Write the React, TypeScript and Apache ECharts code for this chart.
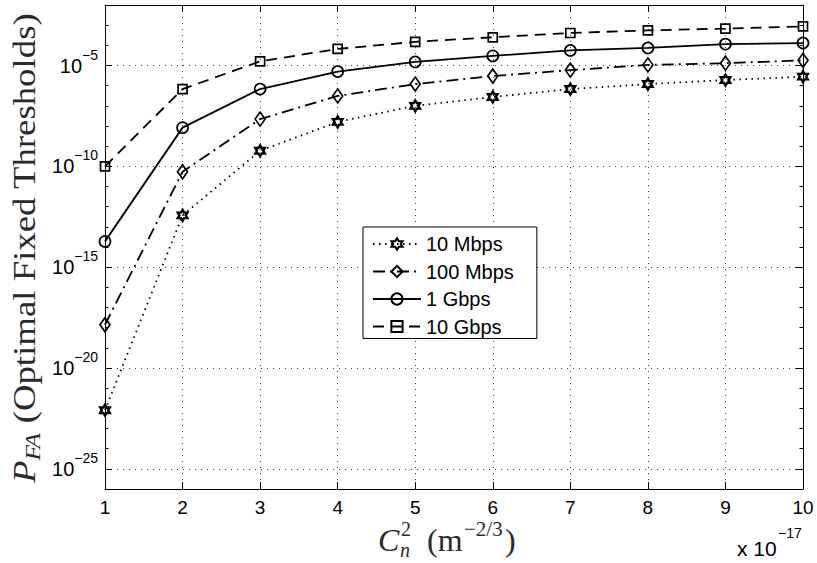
import React, { useEffect, useRef } from 'react';
import * as echarts from 'echarts';

// C_n^2 values (x 10^-17 m^-2/3)
const cn2 = [1, 2, 3, 4, 5, 6, 7, 8, 9, 10];
const seriesNames = ['10 Mbps', '100 Mbps', '1 Gbps', '10 Gbps'];
// P_FA
const pfa10Mbps = [8.1e-23, 3.7e-13, 5.9e-10, 1.6e-8, 1.0e-7, 2.75e-7, 6.8e-7, 1.2e-6, 1.9e-6, 2.8e-6];
const pfa100Mbps = [1.4e-18, 5.4e-11, 2.2e-8, 3.1e-7, 1.2e-6, 3.0e-6, 5.9e-6, 1.07e-5, 1.3e-5, 1.8e-5];
const pfa1Gbps = [1.9e-14, 8.3e-9, 6.8e-7, 5.0e-6, 1.5e-5, 3.0e-5, 5.6e-5, 7.4e-5, 1.15e-4, 1.3e-4];
const pfa10Gbps = [1e-10, 6.8e-7, 1.6e-5, 6.6e-5, 1.5e-4, 2.5e-4, 4.1e-4, 5.5e-4, 6.8e-4, 8.7e-4];
// y axis (decade exponents)
const yMin = -26;
const yMax = -2;
const yMajorTicks = [-25, -20, -15, -10, -5];

const serif = '"Liberation Serif", "Times New Roman", serif';
const sans = '"Liberation Sans", Arial, Helvetica, sans-serif';

const hexagram =
  'path://M0,-10L2.887,-5L8.66,-5L5.774,0L8.66,5L2.887,5L0,10L-2.887,5L-8.66,5L-5.774,0L-8.66,-5L-2.887,-5Z';

const toLog = (vals: number[]) => cn2.map((x, i) => [x, Math.log10(vals[i])]);

const seriesDefs = [
  { name: seriesNames[0], data: pfa10Mbps, symbol: hexagram, size: 11, dash: [1.5, 4.5], bw: 2.4 },
  { name: seriesNames[1], data: pfa100Mbps, symbol: 'diamond', size: [10, 14], dash: [12, 5, 2, 5], bw: 1.7 },
  { name: seriesNames[2], data: pfa1Gbps, symbol: 'circle', size: 11, dash: 'solid', bw: 1.7 },
  { name: seriesNames[3], data: pfa10Gbps, symbol: 'rect', size: 9, dash: [11, 7], bw: 1.7 },
];

const gridLine = { show: true, lineStyle: { color: '#444', width: 1, type: [1, 5] as any } };
const axisLine = { show: true, lineStyle: { color: '#000', width: 1 } };
const labelInk = '#2a2a2a';

function buildOption(): any {
  return {
    animation: false,
    backgroundColor: '#fff',
    grid: { left: 105, right: 14, top: 5, bottom: 74, containLabel: false },
    legend: {
      orient: 'vertical',
      left: 363,
      top: 227,
      data: seriesNames,
      itemWidth: 48,
      itemHeight: 14,
      itemGap: 7.5,
      padding: [7, 23, 2, 9],
      backgroundColor: '#fff',
      borderColor: '#000',
      borderWidth: 1,
      borderRadius: 0,
      textStyle: { fontFamily: sans, fontSize: 20, color: '#000' },
    },
    xAxis: [
      {
        type: 'value',
        min: 1,
        max: 10,
        interval: 1,
        position: 'bottom',
        axisLine,
        axisTick: { show: true, inside: true, length: 7, lineStyle: { color: '#000' } },
        axisLabel: { color: '#000', fontFamily: sans, fontSize: 19, margin: 9 },
        splitLine: gridLine,
      },
      {
        type: 'value',
        min: 1,
        max: 10,
        interval: 1,
        position: 'top',
        axisLine,
        axisTick: { show: true, inside: true, length: 7, lineStyle: { color: '#000' } },
        axisLabel: { show: false },
        splitLine: { show: false },
      },
    ],
    yAxis: [
      {
        type: 'value',
        min: yMin,
        max: yMax,
        position: 'left',
        axisLine,
        axisTick: { show: true, inside: true, length: 7, customValues: yMajorTicks, lineStyle: { color: '#000' } },
        axisLabel: {
          customValues: yMajorTicks,
          margin: 7,
          formatter: (v: number) => `{b|10}{s|${v < 0 ? '\u2212' + Math.abs(v) : v}}`,
          rich: {
            b: { fontFamily: sans, fontSize: 20, color: '#000', lineHeight: 36, verticalAlign: 'middle' },
            s: { fontFamily: sans, fontSize: 14, color: '#000', verticalAlign: 'top' },
          },
        },
        splitLine: gridLine,
      },
      {
        type: 'value',
        min: yMin,
        max: yMax,
        interval: 1,
        position: 'left',
        axisLine: { show: false },
        axisTick: { show: true, inside: true, length: 3.5, lineStyle: { color: '#000' } },
        axisLabel: { show: false },
        splitLine: { show: false },
      },
      {
        type: 'value',
        min: yMin,
        max: yMax,
        position: 'right',
        axisLine,
        axisTick: { show: true, inside: true, length: 7, customValues: yMajorTicks, lineStyle: { color: '#000' } },
        axisLabel: { show: false },
        splitLine: { show: false },
      },
      {
        type: 'value',
        min: yMin,
        max: yMax,
        interval: 1,
        position: 'right',
        axisLine: { show: false },
        axisTick: { show: true, inside: true, length: 3.5, lineStyle: { color: '#000' } },
        axisLabel: { show: false },
        splitLine: { show: false },
      },
    ],
    series: seriesDefs.map((d) => ({
      type: 'line',
      name: d.name,
      xAxisIndex: 0,
      yAxisIndex: 0,
      data: toLog(d.data),
      color: '#000',
      symbol: d.symbol,
      symbolSize: d.size,
      symbolKeepAspect: true,
      showSymbol: true,
      lineStyle: { color: '#000', width: 1.8, type: d.dash },
      itemStyle: { color: 'rgba(255,255,255,0)', borderColor: '#000', borderWidth: d.bw },
      emphasis: { disabled: true },
      z: 3,
    })),
    graphic: [
      {
        type: 'text',
        x: 24,
        y: 248,
        rotation: Math.PI / 2,
        scaleX: 1.15,
        style: {
          text: '{p|P}{f|FA}{t| (Optimal Fixed Thresholds)}',
          align: 'center',
          verticalAlign: 'middle',
          rich: {
            p: { fontFamily: serif, fontStyle: 'italic', fontSize: 32, lineHeight: 40, verticalAlign: 'middle', fill: labelInk },
            f: { fontFamily: serif, fontStyle: 'italic', fontSize: 22, verticalAlign: 'bottom', fill: labelInk },
            t: { fontFamily: serif, fontSize: 32, lineHeight: 40, verticalAlign: 'middle', fill: labelInk },
          },
        },
      },
      { type: 'text', x: 378, y: 540, style: { text: 'C', fontFamily: serif, fontStyle: 'italic', fontSize: 32, fill: labelInk, verticalAlign: 'middle' } },
      { type: 'text', x: 401, y: 529, style: { text: '2', fontFamily: serif, fontSize: 20, fill: labelInk, verticalAlign: 'middle' } },
      { type: 'text', x: 400, y: 550, style: { text: 'n', fontFamily: serif, fontStyle: 'italic', fontSize: 20, fill: labelInk, verticalAlign: 'middle' } },
      { type: 'text', x: 427, y: 540, style: { text: '(m', fontFamily: serif, fontSize: 32, fill: labelInk, verticalAlign: 'middle' } },
      { type: 'text', x: 464, y: 529, style: { text: '\u22122/3', fontFamily: serif, fontSize: 21, fill: labelInk, verticalAlign: 'middle' } },
      { type: 'text', x: 505, y: 540, style: { text: ')', fontFamily: serif, fontSize: 32, fill: labelInk, verticalAlign: 'middle' } },
      { type: 'text', x: 737, y: 548, style: { text: 'x 10', fontFamily: sans, fontSize: 21, fill: '#000', verticalAlign: 'middle' } },
      { type: 'text', x: 778, y: 533, style: { text: '\u221217', fontFamily: sans, fontSize: 14, fill: '#000', verticalAlign: 'middle' } },
    ],
  };
}

export default function App() {
  const ref = useRef<HTMLDivElement>(null);
  useEffect(() => {
    if (!ref.current) return;
    const chart = echarts.init(ref.current, null, { renderer: 'svg' });
    chart.setOption(buildOption());
    return () => chart.dispose();
  }, []);
  return (
    <div
      ref={ref}
      style={{ position: 'fixed', left: 0, top: 0, width: 817, height: 563, background: '#fff' }}
    />
  );
}
